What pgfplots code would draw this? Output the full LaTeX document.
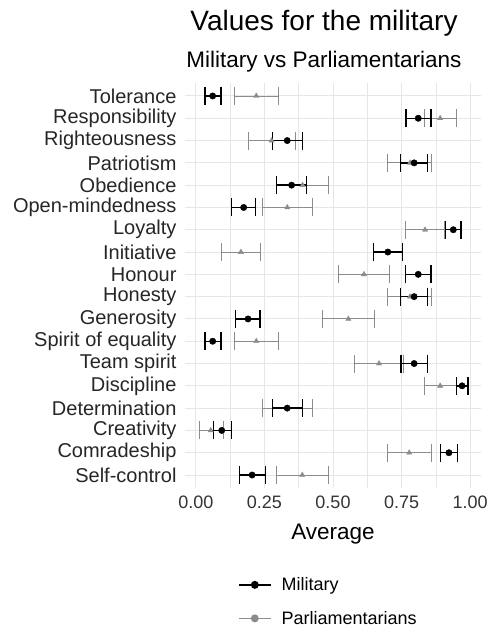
\documentclass[border=0pt]{standalone}
\usepackage{pgfplots}
\pgfplotsset{compat=1.18}
\usepackage{pgfplotstable}
\usepackage{fontspec}
\setmainfont{Liberation Sans}
\definecolor{parl}{RGB}{140,140,140}
\definecolor{gridc}{RGB}{230,230,230}

% y  mil  milLo milHi  par  parLo parHi
\pgfplotstableread{
y  mil   mlo   mhi   par   plo   phi
18 0.061 0.033 0.091 0.220 0.140 0.300
17 0.811 0.766 0.858 0.891 0.832 0.951
16 0.333 0.279 0.388 0.276 0.191 0.364
15 0.796 0.747 0.844 0.781 0.700 0.860
14 0.349 0.294 0.404 0.389 0.295 0.483
13 0.174 0.130 0.218 0.333 0.242 0.424
12 0.939 0.910 0.967 0.836 0.766 0.906
11 0.700 0.647 0.753 0.164 0.094 0.236
10 0.811 0.765 0.858 0.613 0.519 0.706
9  0.796 0.747 0.844 0.781 0.700 0.860
8  0.190 0.145 0.234 0.556 0.462 0.651
7  0.061 0.033 0.091 0.220 0.140 0.300
6  0.796 0.748 0.844 0.668 0.577 0.757
5  0.971 0.951 0.992 0.891 0.832 0.951
4  0.333 0.279 0.388 0.333 0.242 0.424
3  0.094 0.063 0.130 0.054 0.011 0.100
2  0.923 0.893 0.954 0.778 0.700 0.860
1  0.205 0.158 0.254 0.388 0.294 0.483
}\vals

\begin{document}
\begin{tikzpicture}
\useasboundingbox (0,0) rectangle (496pt,629pt);
\node[anchor=base, font=\fontsize{28}{30}\selectfont] at (324pt,598pt) {Values for the military};
\node[anchor=base, font=\fontsize{22.5}{24}\selectfont] at (324pt,561pt) {Military vs Parliamentarians};
\begin{axis}[
    at={(185pt,140.6pt)}, anchor=south west,
    scale only axis, width=296pt, height=405.8pt,
    xmin=-0.04, xmax=1.04, ymin=0.4, ymax=18.6,
    axis line style={draw=none},
    major tick length=0pt, minor tick length=0pt,
    xtick={0,0.25,0.5,0.75,1},
    minor xtick={0.125,0.375,0.625,0.875},
    xticklabels={0.00,0.25,0.50,0.75,1.00},
    ytick={1,...,18},
    yticklabels={Self-control,Comradeship,Creativity,Determination,Discipline,Team spirit,Spirit of equality,Generosity,Honesty,Honour,Initiative,Loyalty,Open-mindedness,Obedience,Patriotism,Righteousness,Responsibility,Tolerance},
    xmajorgrids, xminorgrids, ymajorgrids,
    major grid style={draw=gridc, line width=1.0pt},
    minor grid style={draw=gridc, line width=0.5pt},
    ticklabel style={font=\fontsize{18}{20}\selectfont, text=black!80},
    yticklabel style={font=\fontsize{20}{22}\selectfont, text=black!85, xshift=-5pt},
    xticklabel style={yshift=-4pt},
    xlabel={Average},
    xlabel style={font=\fontsize{22.5}{24}\selectfont, yshift=-8pt},
    legend image code/.code={\draw[mark repeat=2,mark phase=2] plot coordinates {(0pt,0pt) (16pt,0pt) (32pt,0pt)};},
    legend style={at={(axis cs:0.153,-3.50)}, anchor=north west, draw=none, fill=none,
        font=\fontsize{18}{20}\selectfont, row sep=15pt, inner sep=0pt,
        nodes={inner xsep=10pt}},
    legend cell align=left,
]
\addlegendimage{black, line width=1.5pt, mark=*, mark size=3.2pt}
\addlegendentry{Military}
\addlegendimage{parl, line width=1.5pt, mark=*, mark size=3.2pt}
\addlegendentry{Parliamentarians}

\addplot[only marks, parl, mark=triangle*, mark size=3pt, forget plot,
    error bars/.cd, x dir=both, x explicit,
    error bar style={line width=0.9pt, parl},
    error mark options={rotate=90, mark size=9pt, line width=0.9pt, parl}]
  table[x=par, y=y, x error plus expr=\thisrow{phi}-\thisrow{par}, x error minus expr=\thisrow{par}-\thisrow{plo}] {\vals};
\addplot[only marks, black, mark=*, mark size=3.2pt, forget plot,
    error bars/.cd, x dir=both, x explicit,
    error bar style={line width=1.4pt, black},
    error mark options={rotate=90, mark size=9pt, line width=1.4pt, black}]
  table[x=mil, y=y, x error plus expr=\thisrow{mhi}-\thisrow{mil}, x error minus expr=\thisrow{mil}-\thisrow{mlo}] {\vals};
\end{axis}
\end{tikzpicture}
\end{document}
